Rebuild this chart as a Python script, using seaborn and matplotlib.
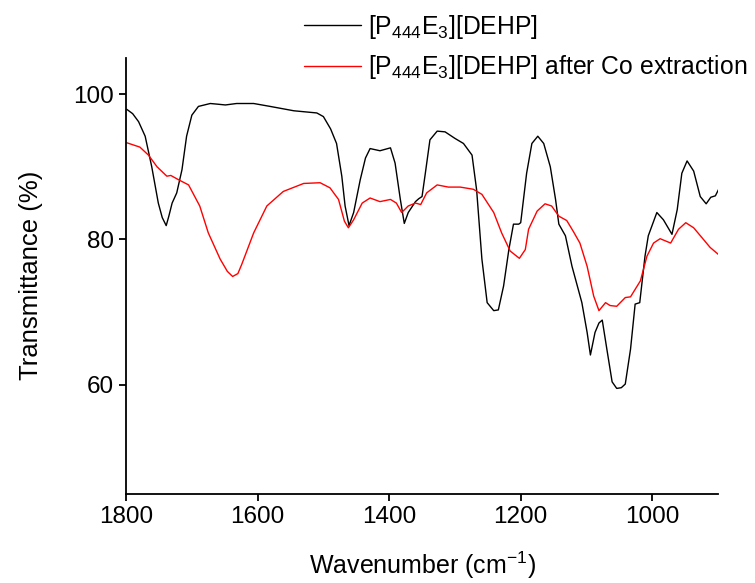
import numpy as np
import pandas as pd
import seaborn as sns
import matplotlib
matplotlib.use("Agg")
import matplotlib.pyplot as plt

# --- data ---
wn_black = [1799, 1790, 1781, 1771, 1761, 1751, 1745, 1739, 1735, 1730, 1723, 1715,
            1708, 1700, 1690, 1672, 1660, 1649, 1632, 1606, 1581, 1545, 1510, 1500,
            1489, 1480, 1472, 1467, 1461, 1454, 1444, 1436, 1429, 1414, 1398, 1391,
            1383, 1377, 1371, 1360, 1355, 1350, 1345, 1338, 1327, 1315, 1300, 1287,
            1274, 1267, 1259, 1251, 1241, 1234, 1226, 1218, 1211, 1203, 1200, 1191,
            1183, 1174, 1165, 1155, 1147, 1142, 1132, 1122, 1107, 1099, 1094, 1087,
            1081, 1076, 1069, 1061, 1054, 1047, 1041, 1033, 1026, 1019, 1011, 1006,
            993, 983, 970, 962, 955, 947, 937, 927, 918, 911, 904, 899]
tr_black = [97.9, 97.3, 96.2, 94.2, 90.0, 85.0, 83.0, 81.9, 83.2, 85.0, 86.4, 89.6,
            94.2, 97.1, 98.3, 98.7, 98.6, 98.5, 98.7, 98.7, 98.3, 97.7, 97.4, 96.9,
            95.2, 93.2, 88.7, 84.6, 81.9, 83.7, 88.2, 91.2, 92.5, 92.2, 92.6, 90.5,
            85.5, 82.2, 83.7, 85.2, 85.6, 85.9, 89.1, 93.7, 94.9, 94.8, 93.9, 93.2,
            91.6, 86.8, 77.3, 71.3, 70.2, 70.3, 73.6, 78.6, 82.1, 82.1, 82.3, 89.1,
            93.2, 94.2, 93.2, 90.0, 85.5, 82.1, 80.5, 76.3, 71.3, 67.2, 64.1, 67.2,
            68.5, 68.9, 64.9, 60.4, 59.5, 59.6, 60.1, 64.9, 71.1, 71.3, 77.7, 80.5,
            83.7, 82.7, 80.7, 84.1, 89.1, 90.8, 89.4, 85.9, 84.9, 85.8, 86.0, 86.9]

wn_red = [1799, 1779, 1766, 1753, 1738, 1732, 1720, 1705, 1688, 1675, 1657, 1646,
          1638, 1630, 1624, 1606, 1586, 1561, 1530, 1505, 1490, 1477, 1468, 1462,
          1454, 1441, 1429, 1414, 1398, 1389, 1381, 1371, 1360, 1352, 1343, 1327,
          1310, 1292, 1272, 1259, 1241, 1229, 1216, 1202, 1193, 1188, 1175, 1163,
          1153, 1142, 1130, 1120, 1110, 1099, 1089, 1081, 1071, 1064, 1054, 1041,
          1033, 1018, 1008, 998, 988, 972, 960, 949, 937, 924, 912, 899]
tr_red = [93.3, 92.7, 91.6, 90.0, 88.7, 88.8, 88.2, 87.5, 84.6, 80.9, 77.3, 75.6,
          74.9, 75.3, 76.6, 80.9, 84.6, 86.6, 87.7, 87.8, 87.1, 85.5, 82.5, 81.6,
          82.7, 85.0, 85.7, 85.2, 85.5, 85.0, 83.7, 84.6, 85.0, 84.8, 86.4, 87.5,
          87.2, 87.2, 86.9, 86.2, 83.7, 80.9, 78.4, 77.4, 78.6, 81.4, 83.9, 84.9,
          84.6, 83.2, 82.6, 81.1, 79.5, 76.3, 72.2, 70.2, 71.3, 70.9, 70.8, 72.0,
          72.1, 74.3, 77.7, 79.5, 80.1, 79.5, 81.4, 82.3, 81.6, 80.2, 78.9, 77.9]

label_black = r"[P$_{444}$E$_3$][DEHP]"
label_red = r"[P$_{444}$E$_3$][DEHP] after Co extraction"
x_ticks = [1800, 1600, 1400, 1200, 1000]
y_ticks = [60, 80, 100]

df_black = pd.DataFrame({"Wavenumber": wn_black, "Transmittance": tr_black})
df_red = pd.DataFrame({"Wavenumber": wn_red, "Transmittance": tr_red})

# --- plot ---
sns.set_style("ticks")
plt.rcParams["font.family"] = ["Liberation Sans", "DejaVu Sans"]
plt.rcParams["mathtext.fontset"] = "custom"
plt.rcParams["mathtext.rm"] = "Liberation Sans"
plt.rcParams["mathtext.it"] = "Liberation Sans"
for key in ["text.color", "axes.labelcolor", "xtick.color", "ytick.color"]:
    plt.rcParams[key] = "black"

fig = plt.figure(figsize=(7.55, 5.83), dpi=100)
ax = fig.add_axes([0.167, 0.153, 0.784, 0.748])

sns.lineplot(data=df_black, x="Wavenumber", y="Transmittance", color="black",
             lw=1.0, ax=ax, label=label_black)
sns.lineplot(data=df_red, x="Wavenumber", y="Transmittance", color="red",
             lw=1.0, ax=ax, label=label_red)

ax.set_xlim(1800, 900)
ax.set_ylim(45, 105)
ax.set_xticks(x_ticks)
ax.set_yticks(y_ticks)
ax.tick_params(labelsize=17.5, width=1.3, length=5, direction="out")
for s in ["left", "bottom"]:
    ax.spines[s].set_linewidth(1.3)
    ax.spines[s].set_color("black")
sns.despine(ax=ax)

ax.set_xlabel(r"Wavenumber (cm$^{-1}$)", fontsize=18, labelpad=16)
ax.set_ylabel("Transmittance (%)", fontsize=18.5, labelpad=22)

# legend sits above the axes, outside the plot box
handles, labels = ax.get_legend_handles_labels()
ax.get_legend().remove()
fig.legend(handles, labels, loc="upper left",
           bbox_to_anchor=(304 / 755, 1 - 13 / 583), frameon=False,
           fontsize=17.8, handlelength=2.3, handletextpad=0.3, labelspacing=0.5,
           borderaxespad=0, borderpad=0)

fig.savefig("out.png", dpi=100)
